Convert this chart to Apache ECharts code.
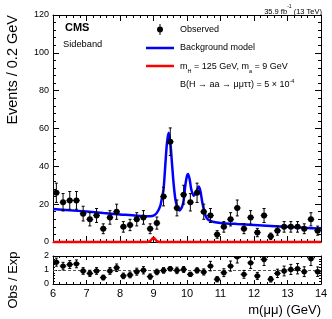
<!DOCTYPE html>
<html><head><meta charset="utf-8">
<script src="https://cdn.jsdelivr.net/npm/echarts@6/dist/echarts.min.js"></script>
<style>html,body{margin:0;padding:0;background:#fff}#c{width:332px;height:319px}</style>
</head><body><div id="c"></div><script>
// ---- data ----
const mass = [6.1,6.3,6.5,6.7,6.9,7.1,7.3,7.5,7.7,7.9,8.1,8.3,8.5,8.7,8.9,9.1,9.3,9.5,9.7,9.9,
              10.1,10.3,10.5,10.7,10.9,11.1,11.3,11.5,11.7,11.9,12.1,12.3,12.5,12.7,12.9,13.1,13.3,13.5,13.7,13.9];
const observed = [26,21,22,22,15,12,14,7,13,16,8,9,12,13,7,10,24,53,18,25,
                  21,26,16,14,4,8,12,18,7,13,5,14,3,6,8,8,8,7,12,6];
const obsErr = [5.1,4.6,4.7,4.7,3.9,3.5,3.7,2.6,3.6,4.0,2.8,3.0,3.5,3.6,2.6,3.2,4.9,7.3,4.2,5.0,
                4.6,5.1,4.0,3.7,2.0,2.8,3.5,4.2,2.6,3.6,2.2,3.7,1.7,2.4,2.8,2.8,2.8,2.6,3.5,2.4];
const ratio = [1.56,1.28,1.39,1.44,0.93,0.76,0.93,0.46,0.93,1.16,0.58,0.65,0.88,0.98,0.53,0.86,0.97,1.09,0.97,1.04,
               0.69,0.97,0.86,1.28,0.34,0.81,1.28,1.94,0.69,1.51,0.58,1.75,0.34,0.76,0.93,1.04,1.09,0.88,1.80,0.88];
const ratioErr = [0.29,0.27,0.28,0.28,0.24,0.22,0.24,0.17,0.24,0.27,0.20,0.21,0.25,0.26,0.19,0.20,0.20,0.15,0.23,0.21,
                  0.15,0.19,0.22,0.34,0.19,0.28,0.36,0.44,0.28,0.40,0.25,0.43,0.20,0.30,0.35,0.36,0.37,0.35,0.48,0.34];
const bgMass = [6.0,6.5,7.0,7.5,8.0,8.5,8.9,9.0,9.1,9.2,9.25,9.3,9.35,9.4,9.45,9.5,9.55,9.6,9.65,9.7,9.77,9.85,9.9,9.95,
                10.0,10.03,10.08,10.13,10.2,10.28,10.35,10.4,10.46,10.52,10.56,10.62,10.68,10.8,11.0,11.5,12.0,12.5,13.0,13.5,14.0];
const bgValue = [17.5,16.8,16.1,15.3,14.6,13.9,13.6,13.9,15.4,19,23,28,40,52,57.8,53,42,31,23,19,16.7,18.5,22,30,
                 35,36,33,27.6,24.5,26.7,29.4,27,20.6,16,13.6,12,11.3,10.6,10.1,9.5,9.0,8.5,8.0,7.5,7.1];
const sigMass = [6.0,8.8,8.9,8.95,9.0,9.05,9.1,9.2,14.0];
const sigValue = [0,0,0.5,1.5,2.2,1.5,0.5,0,0];
const ratioRef = 1;

// ---- chart ----
const FONT = '"Liberation Sans", Arial, Helvetica, sans-serif';
const chart = echarts.init(document.getElementById('c'), null, {renderer: 'canvas'});

function errRender(r) {
  return function (params, api) {
    const x = api.value(0), y = api.value(1), e = api.value(2);
    const c = api.coord([x, y]);
    const lo = api.coord([x, y - e]);
    const hi = api.coord([x, y + e]);
    const l = api.coord([x - 0.1, y]);
    const rr = api.coord([x + 0.1, y]);
    const st = {stroke: '#000', lineWidth: 1};
    return {type: 'group', children: [
      {type: 'line', shape: {x1: c[0], y1: lo[1], x2: c[0], y2: hi[1]}, style: st},
      {type: 'line', shape: {x1: c[0] - 1.5, y1: lo[1], x2: c[0] + 1.5, y2: lo[1]}, style: st},
      {type: 'line', shape: {x1: c[0] - 1.5, y1: hi[1], x2: c[0] + 1.5, y2: hi[1]}, style: st},
      {type: 'line', shape: {x1: l[0], y1: c[1], x2: rr[0], y2: c[1]}, style: st},
      {type: 'circle', shape: {cx: c[0], cy: c[1], r: r}, style: {fill: '#000'}}
    ]};
  };
}

function xAx(grid, pos, showLabel, tl) {
  return {
    gridIndex: grid, type: 'value', min: 6, max: 14, interval: 1, position: pos,
    axisLine: {onZero: false, lineStyle: {color: '#000', width: 1}},
    axisTick: {inside: true, length: tl, lineStyle: {color: '#000'}},
    minorTick: {show: true, splitNumber: 5, length: tl / 2, lineStyle: {color: '#000'}},
    axisLabel: {show: showLabel, fontSize: 11, color: '#000', fontFamily: FONT, margin: 4},
    splitLine: {show: false}, minorSplitLine: {show: false}
  };
}
function yAx(grid, pos, showLabel, max, interval, tl) {
  return {
    gridIndex: grid, type: 'value', min: 0, max: max, interval: interval, position: pos,
    axisLine: {show: true, onZero: false, lineStyle: {color: '#000', width: 1}},
    axisTick: {show: true, inside: true, length: tl, lineStyle: {color: '#000'}},
    minorTick: {show: true, splitNumber: 5, length: tl / 2, lineStyle: {color: '#000'}},
    axisLabel: {show: showLabel, fontSize: 9, color: '#000', fontFamily: FONT, margin: 4},
    splitLine: {show: false}, minorSplitLine: {show: false}
  };
}

const txt = (x, y, text, extra) => ({type: 'text', x: x, y: y, silent: true,
  style: Object.assign({text: text, fill: '#000', fontFamily: FONT, fontSize: 9, verticalAlign: 'middle'}, extra || {})});

const option = {
  animation: false,
  backgroundColor: '#fff',
  grid: [
    {left: 53, top: 15, width: 268, height: 227},
    {left: 53, top: 256, width: 268, height: 28}
  ],
  xAxis: [xAx(0, 'bottom', false, 6), xAx(0, 'top', false, 6), xAx(1, 'bottom', true, 4), xAx(1, 'top', false, 4)],
  yAxis: [yAx(0, 'left', true, 120, 20, 6), yAx(0, 'right', false, 120, 20, 6),
          yAx(1, 'left', true, 2, 1, 4), yAx(1, 'right', false, 2, 1, 4)],
  series: [
    {type: 'line', name: 'Background model', xAxisIndex: 0, yAxisIndex: 0, z: 3,
     data: bgMass.map((m, i) => [m, bgValue[i]]), smooth: 0.3, showSymbol: false,
     lineStyle: {color: '#0000ff', width: 2.5}, itemStyle: {color: '#0000ff'}},
    {type: 'line', name: 'Signal', xAxisIndex: 0, yAxisIndex: 0, z: 4, clip: false,
     data: sigMass.map((m, i) => [m, sigValue[i]]), smooth: 0.3, showSymbol: false,
     lineStyle: {color: '#ff0000', width: 2.5}, itemStyle: {color: '#ff0000'}},
    {type: 'custom', name: 'Observed', xAxisIndex: 0, yAxisIndex: 0, z: 5, clip: true,
     data: mass.map((m, i) => [m, observed[i], obsErr[i]]), encode: {x: 0, y: 1},
     renderItem: errRender(3)},
    {type: 'custom', name: 'Ratio', xAxisIndex: 2, yAxisIndex: 2, z: 5, clip: true,
     data: mass.map((m, i) => [m, ratio[i], ratioErr[i]]), encode: {x: 0, y: 1},
     renderItem: errRender(2.7),
     markLine: {silent: true, symbol: 'none', label: {show: false},
       lineStyle: {type: [3, 2], color: '#555', width: 1}, data: [{yAxis: ratioRef}]}}
  ],
  graphic: [
    // top texts
    txt(65, 28, 'CMS', {fontSize: 11, fontWeight: 'bold'}),
    txt(63, 44, 'Sideband', {fontSize: 9.3}),
    {type: 'text', x: 322, y: 10, silent: true, style: {
      text: '{b|35.9 fb}{s|-1}{b| (13 TeV)}', align: 'right', verticalAlign: 'middle', fill: '#000',
      rich: {b: {fontSize: 7.5, fontFamily: FONT, lineHeight: 11, verticalAlign: 'bottom'},
             s: {fontSize: 5, fontFamily: FONT, lineHeight: 11, verticalAlign: 'top'}}}},
    // legend
    {type: 'line', shape: {x1: 160, y1: 24, x2: 160, y2: 35}, style: {stroke: '#000', lineWidth: 1}},
    {type: 'circle', shape: {cx: 160, cy: 29.5, r: 3}, style: {fill: '#000'}},
    txt(180, 30, 'Observed'),
    {type: 'line', shape: {x1: 146, y1: 48, x2: 174, y2: 48}, style: {stroke: '#0000ff', lineWidth: 2.5}},
    txt(180, 48, 'Background model'),
    {type: 'line', shape: {x1: 146, y1: 66, x2: 174, y2: 66}, style: {stroke: '#ff0000', lineWidth: 2.5}},
    {type: 'text', x: 180, y: 67, silent: true, style: {
      text: '{b|m}{s|H}{b| = 125 GeV, m}{s|a}{b| = 9 GeV}', verticalAlign: 'middle', fill: '#000',
      rich: {b: {fontSize: 9, fontFamily: FONT, lineHeight: 14, verticalAlign: 'middle'},
             s: {fontSize: 5.5, fontFamily: FONT, lineHeight: 14, verticalAlign: 'bottom'}}}},
    {type: 'text', x: 180, y: 85, silent: true, style: {
      text: '{b|B(H \u2192 aa \u2192 \u03bc\u03bc\u03c4\u03c4) = 5 \u00d7 10}{s|-4}', verticalAlign: 'middle', fill: '#000',
      rich: {b: {fontSize: 9, fontFamily: FONT, lineHeight: 14, verticalAlign: 'middle'},
             s: {fontSize: 5.5, fontFamily: FONT, lineHeight: 14, verticalAlign: 'top'}}}},
    // axis titles
    {type: 'text', x: 13, y: 15, rotation: Math.PI / 2, silent: true,
     style: {text: 'Events / 0.2 GeV', fontSize: 14.5, fontFamily: FONT, fill: '#000', align: 'right', verticalAlign: 'middle'}},
    {type: 'text', x: 13, y: 280, rotation: Math.PI / 2, silent: true,
     style: {text: 'Obs / Exp', fontSize: 13, fontFamily: FONT, fill: '#000', align: 'center', verticalAlign: 'middle'}},
    {type: 'text', x: 321, y: 310, silent: true,
     style: {text: 'm(\u03bc\u03bc) (GeV)', fontSize: 13, fontFamily: FONT, fill: '#000', align: 'right', verticalAlign: 'middle'}}
  ]
};
chart.setOption(option);
</script></body></html>
